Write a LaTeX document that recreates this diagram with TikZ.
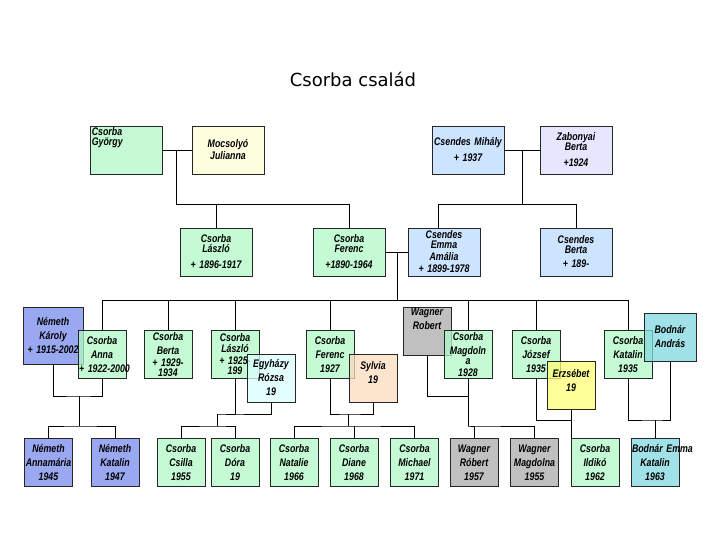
\documentclass[tikz,border=0pt]{standalone}
\usepackage{fontspec}
\usepackage{tikz}
\newfontfamily\ttlfam{DejaVu Sans}
\newfontfamily\nmfam{Liberation Sans}[FakeStretch=0.8]
\newcommand\nmfont{\nmfam\bfseries\itshape\fontsize{11}{14}\selectfont}
\newcommand\yr[1]{\mbox{#1}}
\definecolor{CsGreen}{RGB}{176,248,198}
\definecolor{CsBlue}{RGB}{187,219,255}
\definecolor{NmBlue}{RGB}{119,139,235}
\definecolor{WgGray}{RGB}{171,171,171}
\definecolor{Peach}{RGB}{251,219,188}
\definecolor{IceCyan}{RGB}{219,255,255}
\definecolor{Lemon}{RGB}{255,255,119}
\definecolor{Teal}{RGB}{128,216,224}
\definecolor{Cream}{RGB}{255,255,214}
\definecolor{Lavender}{RGB}{222,222,255}
\tikzset{
  person/.style={draw=black!85,line width=0.7pt,minimum width=48pt,minimum height=48pt,
    inner sep=1pt,text width=46pt,align=center,font=\nmfont,fill opacity=0.75,text opacity=1},
  wide/.style={minimum width=72pt,text width=70pt},
  csorba/.style={person,fill=CsGreen},
  csendes/.style={person,fill=CsBlue},
  nemeth/.style={person,fill=NmBlue},
  wagner/.style={person,fill=WgGray},
  bodnar/.style={person,fill=Teal},
  spouse/.style={person,fill=#1},
  link/.style={draw=black,line width=0.7pt},
}

\begin{document}
\begin{tikzpicture}[x=1pt,y=-1pt]
  \useasboundingbox (0,0) rectangle (720,540);
  \node[font=\ttlfam\fontsize{18}{20}\selectfont] (title) at (353,79) {Csorba család};

  % nagyszulok
  \node[csorba,wide,label={[name=gyorgylbl,anchor=north west,inner sep=2pt,align=left,
    font=\nmfont,text opacity=1]north west:Csorba\\[-4pt]György}] (gyorgy) at (126,150) {};
  \node[spouse=Cream,wide] (julianna) at (228,150) {Mocsolyó\\[-2pt]Julianna};
  \node[csendes,wide] (mihaly) at (468,150) {Csendes~Mihály\\[2pt]+~1937};
  \node[spouse=Lavender,wide] (zberta) at (576,150) {Zabonyai\\[-4pt]Berta\\[2pt]+1924};

  % szulok
  \node[csorba,wide] (laszlo1) at (216,252) {Csorba\\[-4pt]László\\[2pt]\yr{+ 1896-1917}};
  \node[csorba,wide] (ferenc1) at (349,252) {Csorba\\[-4pt]Ferenc\\[2pt]\yr{+1890-1964}};
  \node[csendes,wide] (emma) at (444,252) {Csendes\\[-4pt]Emma\\[-2pt]Amália\\[-2pt]\yr{+ 1899-1978}};
  \node[csendes,wide] (berta1) at (576,252) {Csendes\\[-4pt]Berta\\\yr{+ 189-}};

  % gyerekek
  \node[nemeth,minimum width=60pt,text width=58pt,minimum height=57pt] (nemeth) at (53,335.5)
    {Németh\\Károly\\\yr{+ 1915-2002}};
  \node[csorba] (anna) at (102,354.5) {Csorba\\Anna\\\yr{+ 1922-2000}};
  \node[csorba] (berta2) at (168,354.5) {Csorba\\Berta\\[-2pt]\yr{+ 1929-}\\[-4pt]1934};
  \node[csorba] (laszlo2) at (235,354.5) {Csorba\\[-3pt]László\\[-2pt]\yr{+ 1925-}\\[-4pt]199};
  \node[spouse=IceCyan] (egyhazy) at (271,378) {Egyházy\\Rózsa\\19};
  \node[csorba] (ferenc2) at (330,354.5) {Csorba\\Ferenc\\1927};
  \node[spouse=Peach] (sylvia) at (373,378) {Sylvia\\19\\[-4pt]\mbox{}};
  \node[wagner] (robert) at (427,331) {Wagner\\Robert\\[10pt]\mbox{}};
  \node[csorba] (magdolna) at (468,354.5) {Csorba\\Magdoln\\[-4pt]a\\[-2pt]1928};
  \node[csorba] (jozsef) at (536,354.5) {Csorba\\József\\1935};
  \node[spouse=Lemon] (erzsebet) at (571,385) {Erzsébet\\19\\[-4pt]\mbox{}};
  \node[csorba] (katalin) at (628,354.5) {Csorba\\Katalin\\1935};
  \node[bodnar,minimum width=52pt,text width=50pt] (andras) at (670,337) {Bodnár\\András};

  % unokak
  \node[nemeth] (annamaria) at (48.5,462.5) {Németh\\Annamária\\1945};
  \node[nemeth] (nkatalin) at (115,462.5) {Németh\\Katalin\\1947};
  \node[csorba] (csilla) at (181,462.5) {Csorba\\Csilla\\1955};
  \node[csorba] (dora) at (235,462.5) {Csorba\\Dóra\\19};
  \node[csorba] (natalie) at (294,462.5) {Csorba\\Natalie\\1966};
  \node[csorba] (diane) at (354,462.5) {Csorba\\Diane\\1968};
  \node[csorba] (michael) at (414.5,462.5) {Csorba\\Michael\\1971};
  \node[wagner] (wrobert) at (474,462.5) {Wagner\\Róbert\\1957};
  \node[wagner] (wmagdolna) at (534.5,462.5) {Wagner\\Magdolna\\1955};
  \node[csorba] (ildiko) at (595,462.5) {Csorba\\Ildikó\\1962};
  \node[bodnar] (emmak) at (655,462.5) {\yr{Bodnár Emma}\\Katalin\\1963};

  \coordinate (jGy) at (176,150); \coordinate (bGy) at (176,204);
  \coordinate (jMi) at (522,150); \coordinate (bMi) at (522,204);
  \coordinate (jFE) at (397,252); \coordinate (bFE) at (397,300);
  \coordinate (jNA) at (79,396);  \coordinate (kNA) at (79,426);
  \coordinate (jLE) at (217,414); \coordinate (kLE) at (217,426);
  \coordinate (jFS) at (348,414); \coordinate (kFS) at (348,426);
  \coordinate (jRM) at (468,396); \coordinate (kRM) at (468,426);
  \coordinate (jJE) at (571,420);
  \coordinate (jKA) at (655,420);

  \draw[link] (gyorgy.east) -- (julianna.west);
  \draw[link] (jGy) -- (bGy) -- (ferenc1.north |- bGy) -- (ferenc1.north);
  \draw[link] (laszlo1.north |- bGy) -- (laszlo1.north);
  \draw[link] (mihaly.east) -- (zberta.west);
  \draw[link] (jMi) -- (bMi);
  \draw[link] ([xshift=-6pt]emma.north) |- (berta1.north |- bMi) -- (berta1.north);

  \draw[link] (ferenc1.east) -- (emma.west);
  \draw[link] (jFE) -- (bFE);
  \draw[link] (anna.north) |- (katalin.north |- bFE) -- (katalin.north);
  \foreach \p in {berta2,laszlo2,ferenc2,magdolna,jozsef}
    \draw[link] (\p.north) -- (\p.north |- bFE);

  \draw[link] (nemeth.south) |- (jNA) -| (anna.south);
  \draw[link] (jNA) -- (kNA);
  \draw[link] (annamaria.north) |- (kNA) -| (nkatalin.north);
  \draw[link] (laszlo2.south) |- (jLE) -| (egyhazy.south);
  \draw[link] (jLE) -- (kLE);
  \draw[link] (csilla.north) |- (kLE) -| (dora.north);
  \draw[link] (ferenc2.south) |- (jFS) -| (sylvia.south);
  \draw[link] (jFS) -- (kFS);
  \draw[link] (natalie.north) |- (kFS) -| (michael.north);
  \draw[link] (diane.north) -- (diane.north |- kFS);
  \draw[link] (robert.south) |- (jRM);
  \draw[link] (magdolna.south) -- (kRM);
  \draw[link] (wrobert.north) |- (kRM) -| (wmagdolna.north);
  \draw[link] (jozsef.south) |- (jJE) -- (erzsebet.south);
  \draw[link] (jJE) -- (jJE |- ildiko.north);
  \draw[link] (katalin.south) |- (jKA) -| (andras.south);
  \draw[link] (jKA) -- (emmak.north);
\end{tikzpicture}
\end{document}
